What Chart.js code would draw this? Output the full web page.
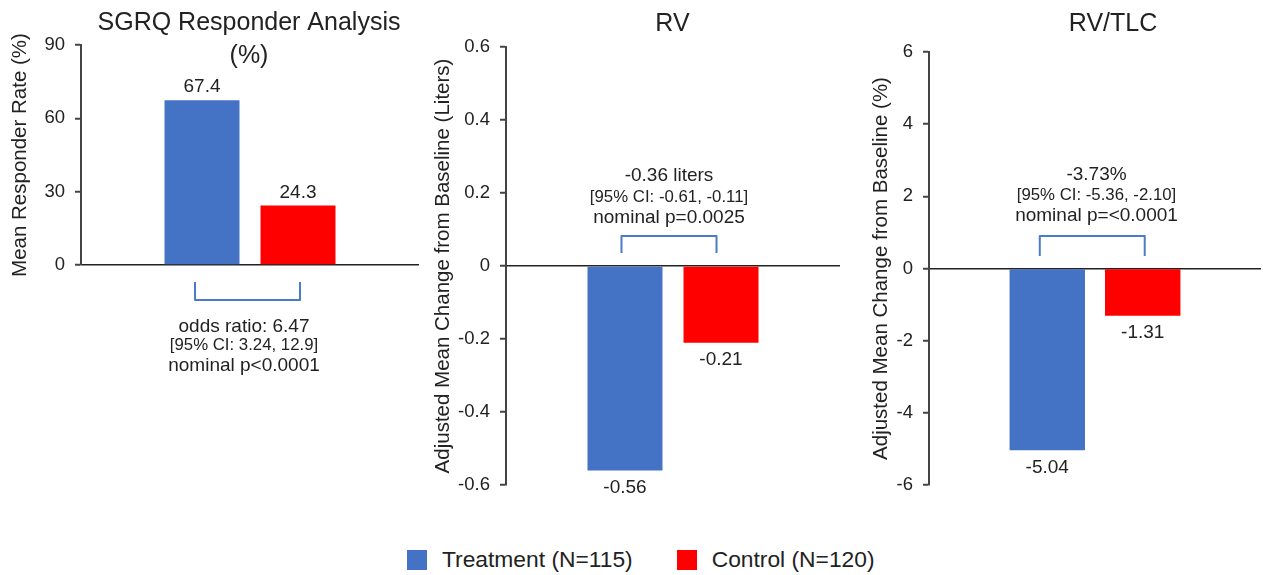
<!DOCTYPE html>
<html>
<head>
<meta charset="utf-8">
<script src="https://cdn.jsdelivr.net/npm/chart.js@4.4.1/dist/chart.umd.min.js"></script>
<style>
  html, body { margin: 0; padding: 0; background: #fff; }
  body { width: 1263px; height: 575px; position: relative; overflow: hidden;
         font-family: "Liberation Sans", Arial, sans-serif; }
  canvas { position: absolute; top: 0; }
  #legend { position: absolute; left: 407px; top: 549px; height: 21px; display: flex;
            align-items: center; font-size: 22.8px; color: #222; }
  #legend .item { display: flex; align-items: center; margin-right: 44px; }
  #legend .sw { width: 20px; height: 20px; margin-right: 15px; }
</style>
</head>
<body>
<canvas id="c1" width="421" height="520" style="left:0px"></canvas>
<canvas id="c2" width="422" height="520" style="left:421px"></canvas>
<canvas id="c3" width="420" height="520" style="left:843px"></canvas>
<div id="legend"></div>
<script>
// data
var groups = ["Treatment (N=115)", "Control (N=120)"];
var groupColors = ["#4472C4", "#FF0000"];

var sgrqValues = [67.4, 24.3];
var rvValues = [-0.56, -0.21];
var rvTlcValues = [-5.04, -1.31];

var sgrqTicks = [0, 30, 60, 90];
var rvTicks = [-0.6, -0.4, -0.2, 0, 0.2, 0.4, 0.6];
var rvTlcTicks = [-6, -4, -2, 0, 2, 4, 6];

var sgrqTitle = ["SGRQ Responder Analysis", "(%)"];
var rvTitle = ["RV"];
var rvTlcTitle = ["RV/TLC"];

var sgrqYTitle = "Mean Responder Rate (%)";
var rvYTitle = "Adjusted Mean Change from Baseline (Liters)";
var rvTlcYTitle = "Adjusted Mean Change from Baseline (%)";

var sgrqNote = ["odds ratio: 6.47", "[95% CI: 3.24, 12.9]", "nominal p<0.0001"];
var rvNote = ["-0.36 liters", "[95% CI: -0.61, -0.11]", "nominal p=0.0025"];
var rvTlcNote = ["-3.73%", "[95% CI: -5.36, -2.10]", "nominal p=<0.0001"];

var FONT = '"Liberation Sans", Arial, sans-serif';
var INK = "#222";

Chart.defaults.font.family = FONT;
Chart.defaults.color = INK;

// titles, value labels, brackets and notes
var panelText = {
  id: "panelText",
  afterDatasetsDraw: function(chart, args, opts) {
    var ctx = chart.ctx;
    ctx.save();
    ctx.fillStyle = INK;
    ctx.textAlign = "center";
    ctx.textBaseline = "middle";

    ctx.font = "25px " + FONT;
    opts.title.forEach(function(t, i) {
      ctx.fillText(t, opts.titleX, opts.titleY[i]);
    });

    ctx.font = "19px " + FONT;
    chart.data.datasets.forEach(function(ds, i) {
      var bar = chart.getDatasetMeta(i).data[0];
      var v = ds.data[0];
      var ly = v >= 0 ? bar.y - 13 : bar.y + 17;
      ctx.fillText(String(v), bar.x, ly);
    });

    var b0 = chart.getDatasetMeta(0).data[0];
    var b1 = chart.getDatasetMeta(1).data[0];
    var x0 = b0.x + opts.bracketDx[0];
    var x1 = b1.x + opts.bracketDx[1];
    ctx.strokeStyle = "#4A7BCC";
    ctx.lineWidth = 2;
    ctx.lineJoin = "round";
    ctx.beginPath();
    ctx.moveTo(x0, opts.bracketY[0]);
    ctx.lineTo(x0, opts.bracketY[1]);
    ctx.lineTo(x1, opts.bracketY[1]);
    ctx.lineTo(x1, opts.bracketY[0]);
    ctx.stroke();

    opts.note.forEach(function(t, i) {
      ctx.font = (i == 1 ? "16.8px " : "19px ") + FONT;
      ctx.fillText(t, opts.noteX, opts.noteY[i]);
    });
    ctx.restore();
  }
};

function makePanel(id, values, ticks, yTitle, lay, text) {
  var datasets = groups.map(function(g, i) {
    return {
      label: g,
      data: [values[i]],
      backgroundColor: groupColors[i],
      borderWidth: 0,
      categoryPercentage: lay.catPct,
      barPercentage: lay.barPct
    };
  });

  return new Chart(document.getElementById(id), {
    type: "bar",
    data: { labels: [""], datasets: datasets },
    options: {
      responsive: false,
      animation: false,
      events: [],
      layout: { padding: { top: lay.top, right: lay.right, bottom: lay.bottom, left: 0 } },
      scales: {
        x: { display: false },
        y: {
          min: ticks[0],
          max: ticks[ticks.length - 1],
          afterBuildTicks: function(scale) {
            scale.ticks = ticks.map(function(v) { return { value: v }; });
          },
          afterFit: function(scale) { scale.width = lay.axisWidth; },
          border: { display: true, color: "#444", width: 2 },
          grid: {
            drawTicks: true,
            tickLength: 6,
            tickColor: "#444",
            tickWidth: 2,
            color: function(c) { return c.tick && c.tick.value === 0 ? "#222" : "rgba(0,0,0,0)"; },
            lineWidth: 1.5
          },
          ticks: {
            padding: 10,
            font: { size: 18.5 },
            color: INK,
            callback: function(v) { return String(v); }
          },
          title: {
            display: true,
            text: yTitle,
            font: { size: 20.5 },
            color: INK,
            padding: { top: lay.titlePad, bottom: 0 }
          }
        }
      },
      plugins: {
        legend: { display: false },
        tooltip: { enabled: false },
        panelText: text
      }
    },
    plugins: [panelText]
  });
}

makePanel("c1", sgrqValues, sgrqTicks, sgrqYTitle,
  { axisWidth: 81, top: 45, right: 2, bottom: 255, titlePad: 8, catPct: 0.568, barPct: 0.781 },
  { title: sgrqTitle, titleX: 249, titleY: [23.5, 56],
    note: sgrqNote, noteX: 244, noteY: [326.5, 345, 366],
    bracketDx: [-7, 2], bracketY: [282, 300] });

makePanel("c2", rvValues, rvTicks, rvYTitle,
  { axisWidth: 85, top: 47, right: 3, bottom: 35, titlePad: 10, catPct: 0.575, barPct: 0.781 },
  { title: rvTitle, titleX: 251.5, titleY: [24.5],
    note: rvNote, noteX: 248, noteY: [175.5, 197.5, 217.5],
    bracketDx: [-3.5, -4.5], bracketY: [253, 236] });

makePanel("c3", rvTlcValues, rvTlcTicks, rvTlcYTitle,
  { axisWidth: 86, top: 52, right: 2, bottom: 35, titlePad: 26, catPct: 0.575, barPct: 0.79 },
  { title: rvTlcTitle, titleX: 270, titleY: [24],
    note: rvTlcNote, noteX: 253.5, noteY: [175, 195.5, 216],
    bracketDx: [-7.5, 2], bracketY: [256, 236] });

// legend
var legend = document.getElementById("legend");
groups.forEach(function(g, i) {
  var item = document.createElement("div");
  item.className = "item";
  var sw = document.createElement("span");
  sw.className = "sw";
  sw.style.background = groupColors[i];
  var label = document.createElement("span");
  label.textContent = g;
  item.appendChild(sw);
  item.appendChild(label);
  legend.appendChild(item);
});
</script>
</body>
</html>
